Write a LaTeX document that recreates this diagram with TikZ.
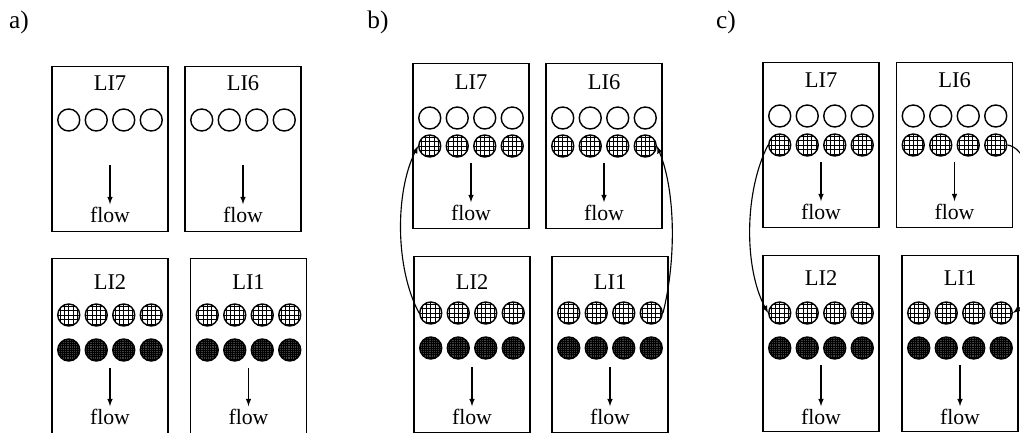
\documentclass[tikz,border=0pt]{standalone}
\usepackage{fontspec}
\setmainfont{Liberation Serif}
\usetikzlibrary{arrows}

\begin{document}
\begin{tikzpicture}[x=0.025cm, y=-0.025cm,
		topcell/.style={draw, line width=1pt, anchor=north, minimum width=2.9cm, minimum height=4.12cm},
		lowcell/.style={draw, line width=1pt, anchor=north, minimum width=2.9cm, minimum height=4.4cm},
		title/.style={font=\fontsize{16}{18}\selectfont},
		flowtxt/.style={font=\fontsize{15.5}{18}\selectfont, inner sep=2pt},
		panel/.style={font=\fontsize{18}{20}\selectfont},
		open/.style={circle, draw, line width=1pt, minimum size=0.55cm, inner sep=0pt},
		hatch/.style={open, path picture={\draw[line width=0.4pt] ([shift={(-1mm,-1mm)}]path picture bounding box.south west) grid[step=1.1mm] (path picture bounding box.north east);}},
		dark/.style={open, fill=black!75, path picture={\draw[line width=0.3pt] ([shift={(-1mm,-1mm)}]path picture bounding box.south west) grid[step=0.55mm] (path picture bounding box.north east);}},
		flowarr/.style={-latex, line width=0.8pt},
		link/.style={-latex, line width=0.8pt}]
	\useasboundingbox (0,0) rectangle (1020,433);

		\draw (19,22) node[panel](la){a)};
		\draw (110,66) node[topcell](a7){};
		\draw (110,83) node[title]{LI7};
		\foreach \i/\dx in {1/-41.25,2/-13.75,3/13.75,4/41.25} \draw (110+\dx,120) node[open](a7o\i){};
		\draw (110,215) node[flowtxt](a7f){flow};
		\draw[flowarr] (110,165) -- (a7f);
		\draw (243,66) node[topcell](a6){};
		\draw (243,83) node[title]{LI6};
		\foreach \i/\dx in {1/-41.25,2/-13.75,3/13.75,4/41.25} \draw (243+\dx,120) node[open](a6o\i){};
		\draw (243,215) node[flowtxt](a6f){flow};
		\draw[flowarr] (243,165) -- (a6f);
		\draw (110,258) node[lowcell, minimum height=4.55cm](a2){};
		\draw (110,282) node[title]{LI2};
		\foreach \i/\dx in {1/-41.25,2/-13.75,3/13.75,4/41.25} {
			\draw (110+\dx,315) node[hatch](a2h\i){};
			\draw (110+\dx,350) node[dark](a2d\i){};
		}
		\draw (110,417) node[flowtxt](a2f){flow};
		\draw[flowarr] (110,368) -- (a2f);
		\draw (248.5,258) node[lowcell, minimum height=4.55cm](a1){};
		\draw (248.5,282) node[title]{LI1};
		\foreach \i/\dx in {1/-41.25,2/-13.75,3/13.75,4/41.25} {
			\draw (248.5+\dx,315) node[hatch](a1h\i){};
			\draw (248.5+\dx,350) node[dark](a1d\i){};
		}
		\draw (248.5,417) node[flowtxt](a1f){flow};
		\draw[flowarr] (248.5,368) -- (a1f);

		\draw (378,22) node[panel](lb){b)};
		\draw (471,63) node[topcell](b7){};
		\draw (471,82) node[title]{LI7};
		\foreach \i/\dx in {1/-41.25,2/-13.75,3/13.75,4/41.25} {
			\draw (471+\dx,118) node[open](b7o\i){};
			\draw (471+\dx,146) node[hatch](b7h\i){};
		}
		\draw (471,213) node[flowtxt](b7f){flow};
		\draw[flowarr] (471,163) -- (b7f);
		\draw (604,63) node[topcell](b6){};
		\draw (604,82) node[title]{LI6};
		\foreach \i/\dx in {1/-41.25,2/-13.75,3/13.75,4/41.25} {
			\draw (604+\dx,118) node[open](b6o\i){};
			\draw (604+\dx,146) node[hatch](b6h\i){};
		}
		\draw (604,213) node[flowtxt](b6f){flow};
		\draw[flowarr] (604,163) -- (b6f);
		\draw (472,256) node[lowcell](b2){};
		\draw (472,282) node[title]{LI2};
		\foreach \i/\dx in {1/-41.25,2/-13.75,3/13.75,4/41.25} {
			\draw (472+\dx,313) node[hatch](b2h\i){};
			\draw (472+\dx,348) node[dark](b2d\i){};
		}
		\draw (472,417) node[flowtxt](b2f){flow};
		\draw[flowarr] (472,367) -- (b2f);
		\draw (610,256) node[lowcell](b1){};
		\draw (610,282) node[title]{LI1};
		\foreach \i/\dx in {1/-41.25,2/-13.75,3/13.75,4/41.25} {
			\draw (610+\dx,313) node[hatch](b1h\i){};
			\draw (610+\dx,348) node[dark](b1d\i){};
		}
		\draw (610,417) node[flowtxt](b1f){flow};
		\draw[flowarr] (610,367) -- (b1f);
		\draw[link] (b2h1.west) .. controls (395,268) and (395,192) .. (b7h1.west);
		\draw[link] (b1h4.east) .. controls (676,262) and (676,192) .. (b6h4.east);

		\draw (726,22) node[panel](lc){c)};
		\draw (821,62) node[topcell](c7){};
		\draw (821,80) node[title]{LI7};
		\foreach \i/\dx in {1/-41.25,2/-13.75,3/13.75,4/41.25} {
			\draw (821+\dx,116) node[open](c7o\i){};
			\draw (821+\dx,145) node[hatch](c7h\i){};
		}
		\draw (821,212) node[flowtxt](c7f){flow};
		\draw[flowarr] (821,162) -- (c7f);
		\draw (954.5,62) node[topcell](c6){};
		\draw (954.5,80) node[title]{LI6};
		\foreach \i/\dx in {1/-41.25,2/-13.75,3/13.75,4/41.25} {
			\draw (954.5+\dx,116) node[open](c6o\i){};
			\draw (954.5+\dx,145) node[hatch](c6h\i){};
		}
		\draw (954.5,212) node[flowtxt](c6f){flow};
		\draw[flowarr] (954.5,162) -- (c6f);
		\draw (821,255) node[lowcell](c2){};
		\draw (821,278) node[title]{LI2};
		\foreach \i/\dx in {1/-41.25,2/-13.75,3/13.75,4/41.25} {
			\draw (821+\dx,313) node[hatch](c2h\i){};
			\draw (821+\dx,348) node[dark](c2d\i){};
		}
		\draw (821,417) node[flowtxt](c2f){flow};
		\draw[flowarr] (821,365) -- (c2f);
		\draw (960,255) node[lowcell](c1){};
		\draw (960,278) node[title]{LI1};
		\foreach \i/\dx in {1/-41.25,2/-13.75,3/13.75,4/41.25} {
			\draw (960+\dx,313) node[hatch](c1h\i){};
			\draw (960+\dx,348) node[dark](c1d\i){};
		}
		\draw (960,417) node[flowtxt](c1f){flow};
		\draw[flowarr] (960,365) -- (c1f);
		\draw[link] (c7h1.west) .. controls (744,192) and (744,268) .. (c2h1.west);
		\draw[link] (c6h4.east) .. controls (1045,150) and (1045,290) .. (c1h4.east);

	\end{tikzpicture}
\end{document}
